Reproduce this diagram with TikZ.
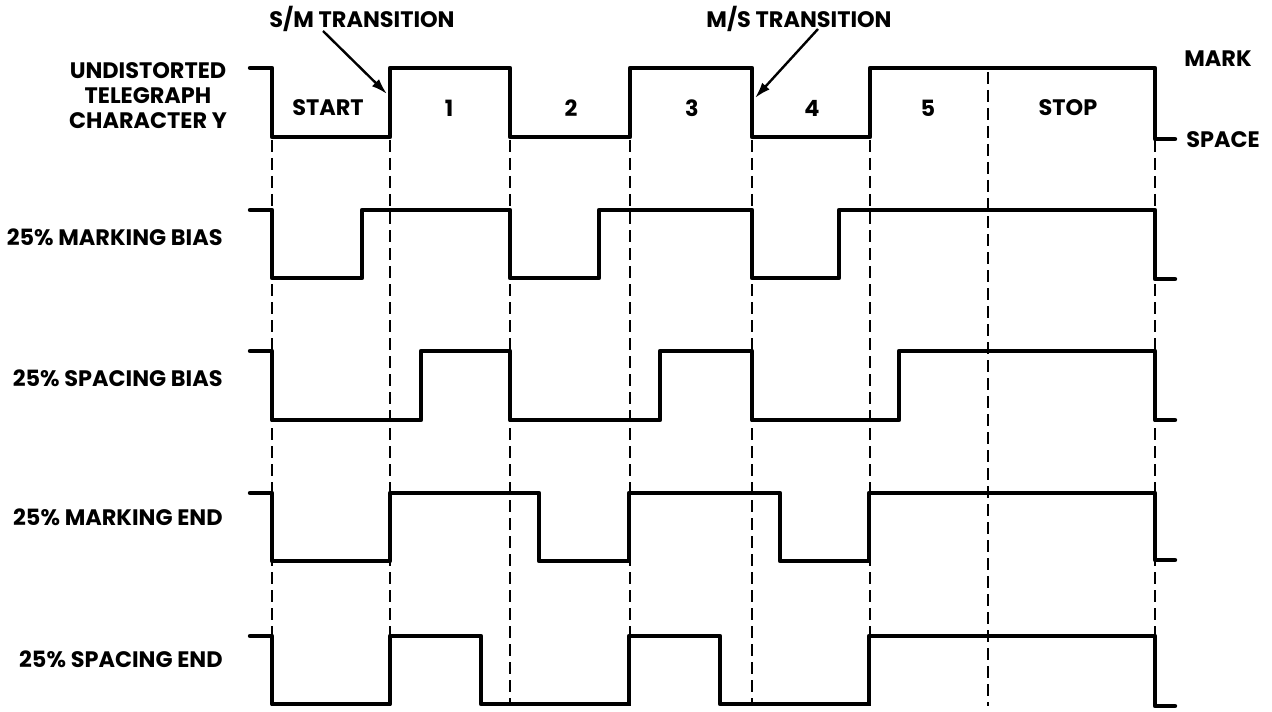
\documentclass[tikz,border=0pt]{standalone}
\usepackage{fontspec}
\setmainfont{Poppins}
\usetikzlibrary{arrows.meta}
\begin{document}
\begin{tikzpicture}[x=0.5pt,y=-0.5pt,
  wave/.style={line width=2.2pt,line join=round,line cap=round},
  guide/.style={line width=1.2pt,dash pattern=on 6pt off 3pt},
  lbl/.style={font=\bfseries\fontsize{11.2}{12.5}\selectfont,inner sep=0pt},
  pointer/.style={line width=1.2pt,-{Latex[length=8pt,width=5pt]}}]
\useasboundingbox (0,0) rectangle (1272,711);
% guide lines
\foreach \x in {272,390,510,630,752,870,1155}
  \draw[guide] (\x,140) -- (\x,706);
\draw[guide] (988,72) -- (988,706);
% waveforms
\draw[wave] (250,68) -- (272,68) -- (272,137) -- (390,137) -- (390,68) -- (510,68) -- (510,137) -- (630,137) -- (630,68) -- (752,68) -- (752,137) -- (870,137) -- (870,68) -- (1155,68) -- (1155,139) -- (1175,139);
\draw[wave] (250,210) -- (272,210) -- (272,278) -- (362,278) -- (362,210) -- (510,210) -- (510,278) -- (599,278) -- (599,210) -- (752,210) -- (752,278) -- (839,278) -- (839,210) -- (1155,210) -- (1155,279) -- (1175,279);
\draw[wave] (250,351) -- (272,351) -- (272,420) -- (421,420) -- (421,351) -- (510,351) -- (510,420) -- (660,420) -- (660,351) -- (752,351) -- (752,420) -- (899,420) -- (899,351) -- (1155,351) -- (1155,420) -- (1175,420);
\draw[wave] (250,493) -- (272,493) -- (272,561) -- (390,561) -- (390,493) -- (539,493) -- (539,561) -- (629,561) -- (629,493) -- (780,493) -- (780,561) -- (869,561) -- (869,493) -- (1155,493) -- (1155,560) -- (1175,560);
\draw[wave] (250,636) -- (272,636) -- (272,704) -- (390,704) -- (390,636) -- (481,636) -- (481,704) -- (629,704) -- (629,636) -- (720,636) -- (720,704) -- (869,704) -- (869,636) -- (1155,636) -- (1155,706) -- (1175,706);
% row labels
\node[lbl,align=center] (undist) at (148,96) {UNDISTORTED\\TELEGRAPH\\CHARACTER Y};
\node[lbl,anchor=east] (mbias) at (223,237) {25\% MARKING BIAS};
\node[lbl,anchor=east] (sbias) at (223,378) {25\% SPACING BIAS};
\node[lbl,anchor=east] (mend) at (223,517) {25\% MARKING END};
\node[lbl,anchor=east] (send) at (223,659) {25\% SPACING END};
% bit labels
\node[lbl] (start) at (328,108) {START};
\node[lbl] (b1) at (449,108) {1};
\node[lbl] (b2) at (571,108) {2};
\node[lbl] (b3) at (692,108) {3};
\node[lbl] (b4) at (812,108) {4};
\node[lbl] (b5) at (928,108) {5};
\node[lbl] (stop) at (1068,108) {STOP};
\node[lbl] (mark) at (1218,59) {MARK};
\node[lbl] (space) at (1223,140) {SPACE};
% transitions
\node[lbl] (sm) at (362,19) {S/M TRANSITION};
\node[lbl] (ms) at (799,19) {M/S TRANSITION};
\coordinate (smtip) at (387,94);
\coordinate (mstip) at (755,98);
\draw[pointer] (323,31) -- (smtip);
\draw[pointer] (818,29) -- (mstip);
\end{tikzpicture}
\end{document}
